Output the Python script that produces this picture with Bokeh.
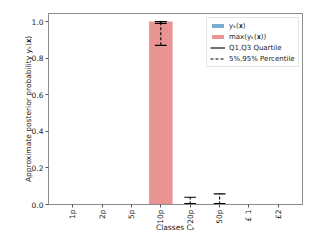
import numpy as np
from bokeh.plotting import figure
from bokeh.models import Range1d, FixedTicker, Legend, LegendItem, ColumnDataSource
from bokeh.embed import file_html
from bokeh.resources import INLINE

classes = ["1p", "2p", "5p", "10p", "20p", "50p", "£ 1", "£2"]
y_mean = [0.0, 0.0, 0.0, 0.0, 0.0, 0.0, 0.0, 0.0]
y_max = [0.0, 0.0, 0.0, 1.0, 0.0, 0.0, 0.0, 0.0]
q1 = [0.0, 0.0, 0.0, 0.99, 0.0, 0.0, 0.0, 0.0]
q3 = [0.0, 0.0, 0.0, 1.0, 0.005, 0.005, 0.0, 0.0]
p5 = [0.0, 0.0, 0.0, 0.87, 0.0, 0.0, 0.0, 0.0]
p95 = [0.0, 0.0, 0.0, 1.0, 0.04, 0.058, 0.0, 0.0]
y_ticks = [0.0, 0.2, 0.4, 0.6, 0.8, 1.0]

FONT = "DejaVu Sans"
xs = list(range(len(classes)))
cap = 0.2
src = ColumnDataSource(dict(
    x=xs, ymean=y_mean, ymax=y_max, q1=q1, q3=q3, p5=p5, p95=p95,
    xl=[x - cap for x in xs], xr=[x + cap for x in xs],
))

p = figure(frame_width=254, frame_height=191, output_backend="svg", toolbar_location=None,
           x_range=Range1d(-0.82, len(classes) - 1 + 0.82), y_range=Range1d(0, 1.044),
           min_border_left=48, min_border_right=18, min_border_top=13, min_border_bottom=34)
p.xgrid.visible = False
p.ygrid.visible = False
p.outline_line_color = "#8c8c8c"
p.background_fill_color = "white"

r_mean = p.vbar(x="x", top="ymean", width=0.8, source=src, fill_color="#1f77b4", fill_alpha=0.6, line_color=None)
r_max = p.vbar(x="x", top="ymax", width=0.8, source=src, fill_color="#d62728", fill_alpha=0.5, line_color=None)

r_pct = p.segment(x0="x", y0="p5", x1="x", y1="p95", source=src, line_color="black", line_width=1.1, line_dash="3 2")
p.segment(x0="xl", y0="p5", x1="xr", y1="p5", source=src, line_color="black", line_width=1.1)
p.segment(x0="xl", y0="p95", x1="xr", y1="p95", source=src, line_color="black", line_width=1.1)
r_q = p.segment(x0="x", y0="q1", x1="x", y1="q3", source=src, line_color="black", line_width=1.1)
p.segment(x0="xl", y0="q1", x1="xr", y1="q1", source=src, line_color="black", line_width=1.1)
p.segment(x0="xl", y0="q3", x1="xr", y1="q3", source=src, line_color="black", line_width=1.1)

for ax in (p.xaxis[0], p.yaxis[0]):
    ax.axis_line_color = "#8c8c8c"
    ax.major_tick_line_color = "#555555"
    ax.minor_tick_line_color = None
    ax.major_tick_out = 3
    ax.major_tick_in = 0
    ax.major_label_text_font = FONT
    ax.major_label_text_font_size = "7.5px"
    ax.major_label_text_color = "#222222"
    ax.axis_label_text_font = FONT
    ax.axis_label_text_font_size = "7.5px"
    ax.axis_label_text_font_style = "normal"
    ax.axis_label_text_color = "#222222"
    ax.major_label_standoff = 2

p.yaxis.ticker = FixedTicker(ticks=y_ticks)
p.yaxis.major_label_overrides = {t: f"{t:.1f}" for t in y_ticks}
p.yaxis.axis_label = "Approximate posterior probability yₖ(𝐱)"
p.yaxis.axis_label_standoff = -4

p.xaxis.ticker = FixedTicker(ticks=xs)
p.xaxis.major_label_overrides = {i: c for i, c in enumerate(classes)}
p.xaxis.major_label_orientation = np.pi / 2
p.xaxis.axis_label = "Classes Cₖ"
p.xaxis.axis_label_standoff = -4

legend = Legend(items=[
    LegendItem(label="yₖ(𝐱)", renderers=[r_mean]),
    LegendItem(label="max(yₖ(𝐱))", renderers=[r_max]),
    LegendItem(label="Q1,Q3 Quartile", renderers=[r_q]),
    LegendItem(label="5%,95% Percentile", renderers=[r_pct]),
], location=(158, 137))
legend.label_text_font = FONT
legend.label_text_font_size = "7px"
legend.label_text_color = "#222222"
legend.glyph_width = 15
legend.glyph_height = 5
legend.label_height = 9
legend.label_standoff = 4
legend.spacing = 2
legend.padding = 3
legend.margin = 0
legend.border_line_color = "#cccccc"
legend.background_fill_alpha = 0.9
p.add_layout(legend)

open("out.html", "w").write(file_html(p, INLINE))
